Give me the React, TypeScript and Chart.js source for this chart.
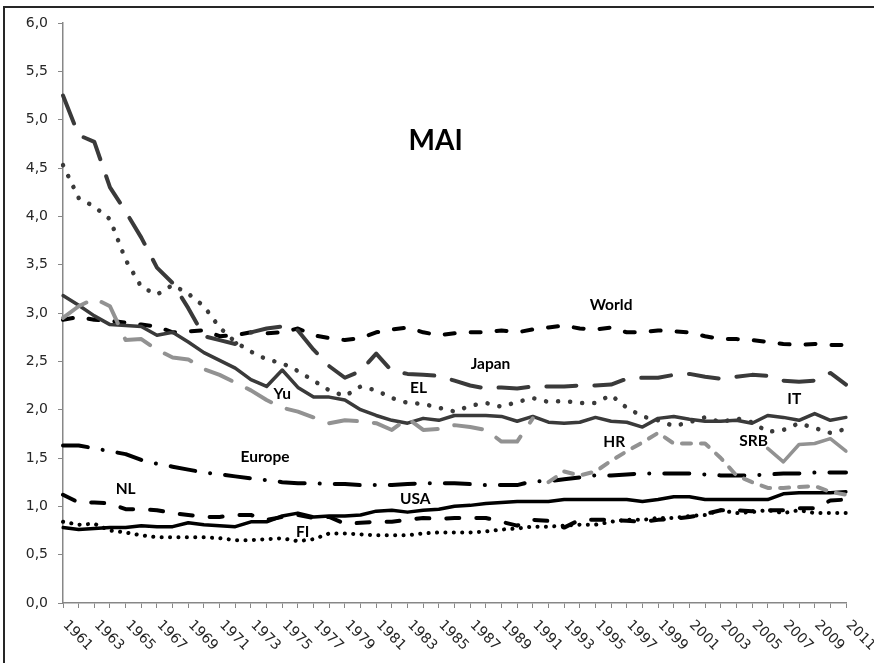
import React, { useEffect, useRef } from "react";
import { Chart, registerables } from "chart.js";

Chart.register(...registerables);

const years: string[] = Array.from({ length: 51 }, (_, i) => String(1961 + i));

const world = [
  2.93, 2.96, 2.93, 2.92, 2.90, 2.88, 2.86, 2.80, 2.81, 2.82,
  2.76, 2.77, 2.80, 2.79, 2.80, 2.84, 2.77, 2.74, 2.72, 2.74,
  2.80, 2.83, 2.85, 2.80, 2.77, 2.79, 2.80, 2.80, 2.82, 2.80,
  2.83, 2.85, 2.87, 2.84, 2.83, 2.85, 2.80, 2.80, 2.82, 2.81,
  2.80, 2.76, 2.73, 2.73, 2.72, 2.70, 2.68, 2.67, 2.68, 2.67,
  2.67,
];
const japan = [
  5.25, 4.84, 4.77, 4.30, 4.05, 3.78, 3.47, 3.31, 3.05, 2.76,
  2.72, 2.68, 2.80, 2.84, 2.86, 2.82, 2.62, 2.45, 2.33, 2.40,
  2.58, 2.40, 2.37, 2.36, 2.35, 2.30, 2.25, 2.22, 2.23, 2.22,
  2.24, 2.24, 2.24, 2.25, 2.25, 2.26, 2.32, 2.33, 2.33, 2.36,
  2.37, 2.34, 2.32, 2.34, 2.36, 2.35, 2.30, 2.29, 2.30, 2.38,
  2.26,
];
const el = [
  4.53, 4.19, 4.10, 3.97, 3.55, 3.27, 3.19, 3.29, 3.20, 3.07,
  2.85, 2.70, 2.60, 2.52, 2.48, 2.40, 2.30, 2.20, 2.14, 2.24,
  2.20, 2.12, 2.07, 2.06, 2.02, 1.98, 2.04, 2.07, 2.03, 2.08,
  2.12, 2.08, 2.09, 2.07, 2.07, 2.15, 2.02, 1.93, 1.89, 1.83,
  1.87, 1.92, 1.87, 1.91, 1.87, 1.77, 1.79, 1.86, 1.81, 1.76,
  1.80,
];
const it = [
  3.18, 3.08, 2.97, 2.88, 2.87, 2.86, 2.77, 2.80, 2.70, 2.59,
  2.51, 2.43, 2.31, 2.24, 2.41, 2.23, 2.13, 2.13, 2.10, 2.00,
  1.94, 1.89, 1.86, 1.91, 1.89, 1.94, 1.94, 1.94, 1.93, 1.88,
  1.93, 1.87, 1.86, 1.87, 1.92, 1.88, 1.87, 1.82, 1.91, 1.93,
  1.90, 1.88, 1.88, 1.89, 1.86, 1.94, 1.92, 1.89, 1.96, 1.89,
  1.92,
];
const yu = [
  2.95, 3.07, 3.15, 3.07, 2.72, 2.73, 2.62, 2.54, 2.52, 2.42,
  2.36, 2.28, 2.20, 2.10, 2.02, 1.98, 1.92, 1.86, 1.89, 1.88,
  1.86, 1.79, 1.91, 1.79, 1.80, 1.84, 1.82, 1.79, 1.67, 1.67,
  1.91, null, null, null, null, null, null, null, null, null,
  null, null, null, null, null, null, null, null, null, null,
  null,
];
const hr = [
  null, null, null, null, null, null, null, null, null, null,
  null, null, null, null, null, null, null, null, null, null,
  null, null, null, null, null, null, null, null, null, null,
  null, 1.25, 1.36, 1.32, 1.36, 1.47, 1.57, 1.66, 1.76, 1.65,
  1.65, 1.65, 1.50, 1.32, 1.25, 1.19, 1.19, 1.20, 1.21, 1.15,
  1.12,
];
const srb = [
  null, null, null, null, null, null, null, null, null, null,
  null, null, null, null, null, null, null, null, null, null,
  null, null, null, null, null, null, null, null, null, null,
  null, null, null, null, null, null, null, null, null, null,
  null, null, null, null, null, 1.60, 1.46, 1.64, 1.65, 1.70,
  1.57,
];
const europe = [
  1.63, 1.63, 1.60, 1.57, 1.54, 1.48, 1.44, 1.41, 1.38, 1.35,
  1.33, 1.31, 1.29, 1.27, 1.25, 1.24, 1.24, 1.23, 1.23, 1.22,
  1.22, 1.22, 1.23, 1.24, 1.24, 1.24, 1.23, 1.22, 1.22, 1.22,
  1.26, 1.26, 1.28, 1.30, 1.32, 1.32, 1.33, 1.34, 1.34, 1.34,
  1.34, 1.33, 1.32, 1.32, 1.32, 1.33, 1.34, 1.34, 1.35, 1.35,
  1.35,
];
const nl = [
  1.12, 1.04, 1.04, 1.03, 0.97, 0.97, 0.96, 0.93, 0.91, 0.89,
  0.89, 0.91, 0.91, 0.86, 0.89, 0.91, 0.88, 0.89, 0.82, 0.83,
  0.84, 0.84, 0.86, 0.88, 0.87, 0.88, 0.88, 0.88, 0.84, 0.80,
  0.86, 0.85, 0.78, 0.86, 0.86, 0.86, 0.85, 0.84, 0.86, 0.87,
  0.89, 0.92, 0.96, 0.96, 0.95, 0.96, 0.96, 0.98, 0.98, 1.06,
  1.07,
];
const usa = [
  0.78, 0.76, 0.77, 0.78, 0.78, 0.80, 0.79, 0.79, 0.83, 0.81,
  0.80, 0.79, 0.84, 0.84, 0.90, 0.93, 0.89, 0.90, 0.90, 0.91,
  0.95, 0.96, 0.94, 0.96, 0.97, 1.00, 1.01, 1.03, 1.04, 1.05,
  1.05, 1.05, 1.07, 1.07, 1.07, 1.07, 1.07, 1.05, 1.07, 1.10,
  1.10, 1.07, 1.07, 1.07, 1.07, 1.07, 1.13, 1.14, 1.14, 1.14,
  1.15,
];
const fi = [
  0.84, 0.81, 0.82, 0.75, 0.73, 0.70, 0.68, 0.68, 0.68, 0.68,
  0.67, 0.65, 0.65, 0.66, 0.67, 0.64, 0.66, 0.72, 0.72, 0.71,
  0.70, 0.70, 0.70, 0.72, 0.73, 0.73, 0.73, 0.74, 0.76, 0.77,
  0.79, 0.79, 0.80, 0.81, 0.81, 0.84, 0.86, 0.86, 0.88, 0.88,
  0.90, 0.91, 0.96, 0.93, 0.94, 0.96, 0.93, 0.96, 0.93, 0.93,
  0.93,
];

// In-chart labels: text, year position, value position
const labelTexts = ["World", "Japan", "EL", "Yu", "IT", "HR", "SRB", "Europe", "NL", "USA", "FI"];
const labelYears = [1996.0, 1988.3, 1983.7, 1975.0, 2007.7, 1996.2, 2005.1, 1973.9, 1965.0, 1983.5, 1976.3];
const labelValues = [3.08, 2.47, 2.22, 2.16, 2.11, 1.67, 1.68, 1.51, 1.18, 1.08, 0.73];
const titleText = "MAI";
const titleYear = 1984.8;
const titleValue = 4.78;

const DARK = "#3a3a3a";
const LIGHT = "#929292";
const BLACK = "#000000";

const xLabelPlugin = {
  id: "xRotLabels",
  afterDraw(chart: any) {
    const xs = chart.scales.x;
    const ctx = chart.ctx;
    ctx.save();
    ctx.font = '14px "DejaVu Sans"';
    ctx.fillStyle = "#262626";
    ctx.textAlign = "left";
    ctx.textBaseline = "middle";
    years.forEach((yr, i) => {
      if (i % 2 !== 0) return;
      const x = xs.getPixelForValue(i);
      const y = xs.top + 20;
      ctx.save();
      ctx.translate(x + 2, y);
      ctx.rotate(Math.PI / 4);
      ctx.fillText(yr, 0, 0);
      ctx.restore();
    });
    ctx.restore();
  },
};

const annotPlugin = {
  id: "annotLabels",
  afterDatasetsDraw(chart: any) {
    const xs = chart.scales.x;
    const ys = chart.scales.y;
    const ctx = chart.ctx;
    ctx.save();
    ctx.fillStyle = "#000";
    ctx.textAlign = "center";
    ctx.textBaseline = "middle";
    ctx.font = 'bold 15.5px "Lato"';
    labelTexts.forEach((t, i) => {
      const x = xs.getPixelForValue(labelYears[i] - 1961);
      const y = ys.getPixelForValue(labelValues[i]);
      ctx.fillText(t, x, y);
    });
    ctx.font = 'bold 28px "Lato"';
    ctx.fillText(titleText, xs.getPixelForValue(titleYear - 1961), ys.getPixelForValue(titleValue));
    ctx.restore();
  },
};

function ds(label: string, data: (number | null)[], color: string, width: number, dash: number[]) {
  return {
    label,
    data,
    borderColor: color,
    backgroundColor: color,
    borderWidth: width,
    borderDash: dash,
    borderCapStyle: "round" as const,
    borderJoinStyle: "round" as const,
    pointRadius: 0,
    pointHoverRadius: 0,
    tension: 0,
    fill: false,
    spanGaps: false,
  };
}

export default function App() {
  const ref = useRef<HTMLCanvasElement>(null);
  useEffect(() => {
    if (!ref.current) return;
    const chart = new Chart(ref.current, {
      type: "line",
      data: {
        labels: years,
        datasets: [
          ds("Yu", yu, LIGHT, 4, [28, 17]),
          ds("HR", hr, LIGHT, 4, [9, 10]),
          ds("SRB", srb, LIGHT, 3.5, []),
          ds("IT", it, DARK, 3.5, []),
          ds("EL", el, DARK, 4.5, [0.1, 12]),
          ds("Japan", japan, DARK, 4, [30, 18]),
          ds("World", world, BLACK, 4, [10, 16]),
          ds("Europe", europe, BLACK, 4, [25, 15, 0.1, 15]),
          ds("NL", nl, BLACK, 4, [13, 17]),
          ds("USA", usa, BLACK, 3.5, []),
          ds("FI", fi, BLACK, 4, [0.1, 8.3]),
        ],
      },
      plugins: [xLabelPlugin, annotPlugin],
      options: {
        responsive: false,
        animation: false,
        layout: { padding: { top: 23, right: 28, left: 0, bottom: 0 } },
        plugins: { legend: { display: false }, tooltip: { enabled: false }, title: { display: false } },
        scales: {
          x: {
            type: "category",
            offset: false,
            grid: { display: true, drawOnChartArea: false, drawTicks: true, tickLength: 5, color: "#878787", lineWidth: 1 },
            border: { display: true, color: "#878787", width: 1.5 },
            ticks: { display: false },
            afterFit: (s: any) => { s.height = 60; },
          },
          y: {
            min: 0,
            max: 6,
            grid: { display: true, drawOnChartArea: false, drawTicks: true, tickLength: 5, color: "#878787", lineWidth: 1 },
            border: { display: true, color: "#878787", width: 1.5 },
            ticks: {
              stepSize: 0.5,
              padding: 10,
              color: "#262626",
              font: { family: '"DejaVu Sans"', size: 14 },
              callback: (v: any) => Number(v).toFixed(1).replace(".", ","),
            },
            afterFit: (s: any) => { s.width = 63; },
          },
        },
      },
    });
    return () => chart.destroy();
  }, []);
  return (
    <div style={{ position: "fixed", left: 0, top: 0, width: 874, height: 663, background: "#fff", overflow: "hidden" }}>
      <div style={{ position: "absolute", left: 3, top: 6, width: 900, height: 700, borderTop: "2px solid #262626", borderLeft: "2px solid #262626" }} />
      <canvas ref={ref} width={874} height={663} style={{ position: "absolute", left: 0, top: 0, display: "block" }} />
    </div>
  );
}
